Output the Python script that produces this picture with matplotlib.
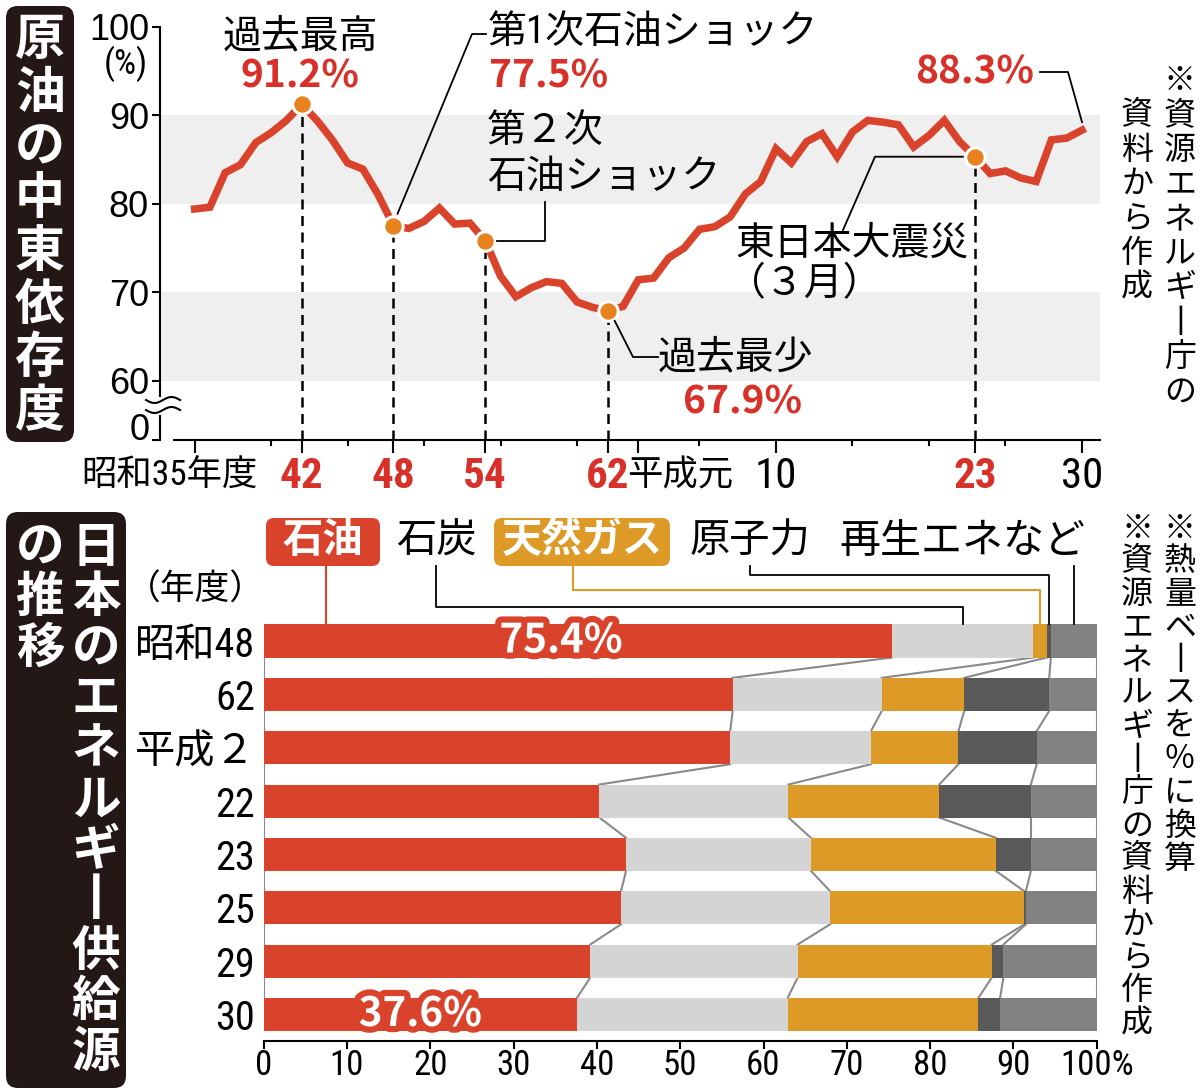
import numpy as np
import matplotlib
matplotlib.use('Agg')
import matplotlib.pyplot as plt
import matplotlib.patheffects as pe
from matplotlib import font_manager
from matplotlib.patches import FancyBboxPatch

# ---- data: Middle East share of crude imports (%), FY1960-2018
years = np.arange(1960, 2019)
mideast = [79.4, 79.6, 83.5, 84.4, 86.9, 88.0, 89.4, 91.2, 89.4, 87.2,
           84.6, 83.9, 81.0, 77.5, 77.2, 78.0, 79.5, 77.7, 77.8, 75.8,
           71.8, 69.5, 70.5, 71.2, 71.0, 68.9, 68.3, 67.9, 68.4, 71.4,
           71.6, 73.9, 75.0, 77.1, 77.4, 78.5, 81.1, 82.5, 86.2, 84.6,
           87.0, 87.9, 85.3, 88.1, 89.4, 89.2, 88.9, 86.4, 87.7, 89.4,
           87.0, 85.3, 83.4, 83.7, 82.9, 82.5, 87.2, 87.4, 88.3]
mark_years = [1967, 1973, 1979, 1987, 2011]
major_years = [1960, 1967, 1973, 1979, 1987, 1989, 1998, 2011, 2018]
major_labels = ['昭和35年度', '42', '48', '54', '62', '平成元', '10', '23', '30']
red_labels = ['42', '48', '54', '62', '23']
minor_years = [1965, 1970, 1975, 1980, 1985, 1993, 2003, 2008, 2013]

# ---- data: primary energy supply mix (%)
rows = ['昭和48', '62', '平成２', '22', '23', '25', '29', '30']
sources = ['石油', '石炭', '天然ガス', '原子力', '再生エネなど']
oil = [75.4, 56.3, 56.0, 40.3, 43.5, 42.9, 39.2, 37.6]
coal = [17.0, 17.9, 16.9, 22.7, 22.2, 25.1, 24.9, 25.3]
gas = [1.6, 9.9, 10.5, 18.1, 22.2, 23.3, 23.3, 22.9]
nuclear = [0.5, 10.2, 9.4, 11.0, 4.2, 0.2, 1.4, 2.6]
renew = [5.5, 5.7, 7.2, 7.9, 7.9, 8.5, 11.2, 11.6]

RED = '#d9432c'
TRED = '#d8312a'
ORANGE = '#e8821e'
colors = [RED, '#d4d4d4', '#de9a26', '#595959', '#828282']


# pick a condensed latin font if one is installed
def pick_narrow():
    fl = font_manager.fontManager.ttflist
    nm = {f.name for f in fl}
    for n in ['Roboto Condensed', 'Liberation Sans Narrow', 'Open Sans Condensed',
              'Noto Sans Condensed', 'DejaVu Sans Condensed']:
        if n in nm:
            return n, 'normal'
    for n in ['Noto Sans', 'Roboto', 'Open Sans', 'DejaVu Sans', 'Liberation Sans']:
        for f in fl:
            if f.name == n and str(f.stretch) in ('condensed', 'semi-condensed', 'extra-condensed'):
                return n, str(f.stretch)
    return 'Liberation Sans', 'normal'


NARROW, STRETCH = pick_narrow()
JP = 'Noto Sans CJK JP'
plt.rcParams['font.family'] = [NARROW, JP]
plt.rcParams['font.stretch'] = STRETCH
NFAM = [NARROW, JP]

W, H = 1200, 1090
fig = plt.figure(figsize=(W / 100, H / 100), dpi=100)


def fax(l, t, r, b):
    return fig.add_axes([l / W, 1 - b / H, (r - l) / W, (b - t) / H])


# ================= top: line chart =================
ax = fax(160, 26.5, 1100, 440)
x0 = 1960 - (194.6 - 160) / 15.3
x1 = 1960 + (1100 - 194.6) / 15.3
ymin = 60 - (440 - 380.8) / 8.86
ax.set_xlim(x0, x1)
ax.set_ylim(ymin, 100)
ax.axhspan(80, 90, color='#efefef', lw=0, zorder=0)
ax.axhspan(60, 70, color='#efefef', lw=0, zorder=0)

vals = dict(zip(years, mideast))
mvals = [vals[y] for y in mark_years]
ax.vlines(mark_years, ymin, mvals, colors='k', lw=1.8, linestyles=(0, (4, 2.6)), zorder=2)
ax.plot(years, mideast, color=RED, lw=5.4, zorder=3, solid_joinstyle='miter')
ax.plot(mark_years, mvals, 'o', ms=14, mfc=ORANGE, mec='white', mew=2.2, zorder=4)

for s in ['top', 'right']:
    ax.spines[s].set_visible(False)
ax.spines['left'].set_bounds(58.3, 100)
ax.spines['bottom'].set_bounds(1960 + (174 - 194.6) / 15.3, x1)
for s in ['left', 'bottom']:
    ax.spines[s].set_linewidth(1.5)
ax.plot([x0, x0], [ymin, 56.0], color='k', lw=1.5, clip_on=False)
ax.set_yticks([ymin, 60, 70, 80, 90, 100], ['', '60', '70', '80', '90', '100'])
ax.tick_params(axis='y', length=6, width=1.5, labelsize=26, pad=2)
ax.set_xticks(major_years, [''] * len(major_years))
ax.set_xticks(minor_years, minor=True)
ax.tick_params(axis='x', which='major', length=9, width=1.5)
ax.tick_params(axis='x', which='minor', length=4, width=1.5)
for t in ax.get_yticklabels():
    t.set_family(['Liberation Sans', JP])
    t.set_stretch('normal')

# ================= bottom: stacked bars =================
bax = fax(263.7, 590, 1096.7, 1041)
bax.set_xlim(0, 100)
bax.set_ylim((1041 - 641) / 53.35, -(641 - 590) / 53.35)
bh = 0.62
ypos = np.arange(len(rows))
series = [oil, coal, gas, nuclear, renew]
left = np.zeros(len(rows))
bounds = [left.copy()]
for vals_s, c in zip(series, colors):
    bax.barh(ypos, vals_s, left=left, height=bh, color=c, lw=0, zorder=2)
    left = left + np.array(vals_s)
    bounds.append(left.copy())
bounds = np.array(bounds)
for k in range(1, 5):
    for i in range(len(rows) - 1):
        bax.plot([bounds[k][i], bounds[k][i + 1]], [i + bh / 2, i + 1 - bh / 2],
                 color='#8a8a8a', lw=1.5, zorder=1)
bax.vlines([0, 100], -bh / 2, len(rows) - 1 + bh / 2, color='#8a8a8a', lw=1.5, zorder=1)

for i in [0, len(rows) - 1]:
    bax.text(oil[i] / 2 - (2 if i == 0 else 0), i, f'{oil[i]}%', ha='center', va='center',
             color='white', fontsize=29, weight='bold', family=JP, zorder=5,
             path_effects=[pe.withStroke(linewidth=9, foreground=RED)])

for s in ['top', 'right', 'left']:
    bax.spines[s].set_visible(False)
bax.spines['bottom'].set_linewidth(1.5)
bax.set_xticks(np.arange(0, 101, 10), [str(v) for v in range(0, 100, 10)] + ['100%'])
bax.tick_params(axis='x', length=6, width=1.5, labelsize=25, pad=0)
bax.set_yticks(ypos, rows)
bax.tick_params(axis='y', length=0, labelsize=29, pad=6)

# ================= overlay for labels =================
ov = fig.add_axes([0, 0, 1, 1], zorder=10)
ov.set_xlim(0, W)
ov.set_ylim(H, 0)
ov.axis('off')


def px(a, x, y):
    X, Y = a.transData.transform((x, y))
    return X, H - Y


def vtext(x, ytop, s, size, step, **kw):
    for i, ch in enumerate(s):
        ch = '丨' if ch == 'ー' else ch
        ov.text(x, ytop + step * (i + 0.5), ch, ha='center', va='center',
                fontsize=size, family=JP, **kw)


# title boxes
ov.add_patch(FancyBboxPatch((6, 6), 68, 436, boxstyle='round,pad=0,rounding_size=12',
                            fc='#231815', ec='none'))
vtext(40, 14, '原油の中東依存度', 36, 53, color='white', weight='bold')
ov.add_patch(FancyBboxPatch((6, 512), 120, 576, boxstyle='round,pad=0,rounding_size=12',
                            fc='#231815', ec='none'))
vtext(96, 522, '日本のエネルギー供給源', 35, 50.5, color='white', weight='bold')
vtext(40, 522, 'の推移', 35, 50.5, color='white', weight='bold')

# right notes
vtext(1180, 64, '※資源エネルギー庁の', 23, 34.5, color='k')
vtext(1137, 98, '資料から作成', 23, 34.5, color='k')
vtext(1180, 512, '※熱量ベースを％に換算', 23, 33, color='k')
vtext(1137, 512, '※資源エネルギー庁の資料から作成', 23, 33, color='k')

# y unit, zero label & axis break
ov.text(126, 64, '(%)', ha='center', va='center', fontsize=25, family=NFAM)
ov.text(150, 431, '0', ha='right', va='center', fontsize=26, family=['Liberation Sans'])
xs = np.linspace(146, 180, 40)
for yb in [400, 410]:
    ov.plot(xs, yb + 3 * np.sin((xs - 146) / 34 * 2 * np.pi), color='k', lw=1.5)

# x tick labels of top chart
for yr, lab in zip(major_years, major_labels):
    xp, _ = px(ax, yr, ymin)
    isred = lab in red_labels
    kw = dict(va='center', color=TRED if isred else 'k',
              weight='bold' if isred else 'normal', family=NFAM)
    if lab == '昭和35年度':
        ov.text(xp + 63, 476, lab, ha='right', fontsize=25.5, **kw)
    elif lab == '平成元':
        ov.text(xp - 11, 476, lab, ha='left', fontsize=25.5, **kw)
    else:
        ov.text(xp, 476, lab, ha='center', fontsize=31, **kw)

# annotations of top chart
fs = 28
ov.text(300, 36, '過去最高', ha='center', va='center', fontsize=fs, family=JP)
ov.text(300, 76, '91.2%', ha='center', va='center', fontsize=fs, weight='bold', color=TRED, family=JP)

p = px(ax, 1973, vals[1973])
ov.plot([p[0] + 4, 472, 486], [p[1] - 12, 34, 34], color='k', lw=1.3)
ov.text(488, 33, '第1次石油ショック', ha='left', va='center', fontsize=fs, family=NFAM)
ov.text(489, 76, '77.5%', ha='left', va='center', fontsize=fs, weight='bold', color=TRED, family=JP)

p = px(ax, 1979, vals[1979])
ov.plot([p[0] + 12, 545, 545], [p[1], p[1], 202], color='k', lw=1.3)
ov.text(487, 131, '第２次', ha='left', va='center', fontsize=fs, family=JP)
ov.text(487, 177, '石油ショック', ha='left', va='center', fontsize=fs, family=JP)

p = px(ax, 1987, vals[1987])
ov.plot([p[0] + 7, 633, 658], [p[1] + 10, 357, 357], color='k', lw=1.3)
ov.text(658, 357, '過去最少', ha='left', va='center', fontsize=fs, family=JP)
ov.text(683, 402, '67.9%', ha='left', va='center', fontsize=fs, weight='bold', color=TRED, family=JP)

p = px(ax, 2011, vals[2011])
ov.plot([p[0] - 12, 875, 843], [p[1], p[1], 230], color='k', lw=1.3)
ov.text(735, 244, '東日本大震災', ha='left', va='center', fontsize=fs, family=JP)
ov.text(727, 284, '（３月）', ha='left', va='center', fontsize=fs, family=JP)

p = px(ax, 2018, vals[2018])
ov.plot([1040, 1068, p[0]], [72, 72, p[1] - 8], color='k', lw=1.3)
ov.text(915, 72, '88.3%', ha='left', va='center', fontsize=fs, weight='bold', color=TRED, family=JP)

# legend of bar chart
bar_top = px(bax, 0, -bh / 2)[1]
mids = [(bounds[k][0] + bounds[k + 1][0]) / 2 for k in range(5)]
mid_px = [px(bax, m, 0)[0] for m in mids]
ov.add_patch(FancyBboxPatch((266, 518), 114, 48, boxstyle='round,pad=0,rounding_size=8',
                            fc=RED, ec='none'))
ov.text(323, 541, '石油', ha='center', va='center', fontsize=29, weight='bold', color='white', family=JP)
ov.plot([326, 326], [566, bar_top], color=RED, lw=1.5)
ov.text(436, 541, '石炭', ha='center', va='center', fontsize=29, family=JP)
ov.plot([436, 436, mid_px[1], mid_px[1]], [566, 607, 607, bar_top], color='k', lw=1.3)
ov.add_patch(FancyBboxPatch((494, 518), 176, 48, boxstyle='round,pad=0,rounding_size=8',
                            fc='#de9a26', ec='none'))
ov.text(582, 541, '天然ガス', ha='center', va='center', fontsize=29, weight='bold', color='white', family=JP)
ov.plot([573, 573, mid_px[2], mid_px[2]], [566, 590, 590, bar_top], color='#de9a26', lw=1.5)
ov.text(750, 541, '原子力', ha='center', va='center', fontsize=29, family=JP)
ov.plot([750, 750, mid_px[3], mid_px[3]], [566, 575, 575, bar_top], color='k', lw=1.3)
ov.text(962, 541, '再生エネなど', ha='center', va='center', fontsize=29.5, family=JP)
ov.plot([mid_px[4], mid_px[4]], [566, bar_top], color='k', lw=1.3)
ov.text(195, 590, '（年度）', ha='center', va='center', fontsize=25, family=JP)

fig.savefig('out.png', dpi=100)
